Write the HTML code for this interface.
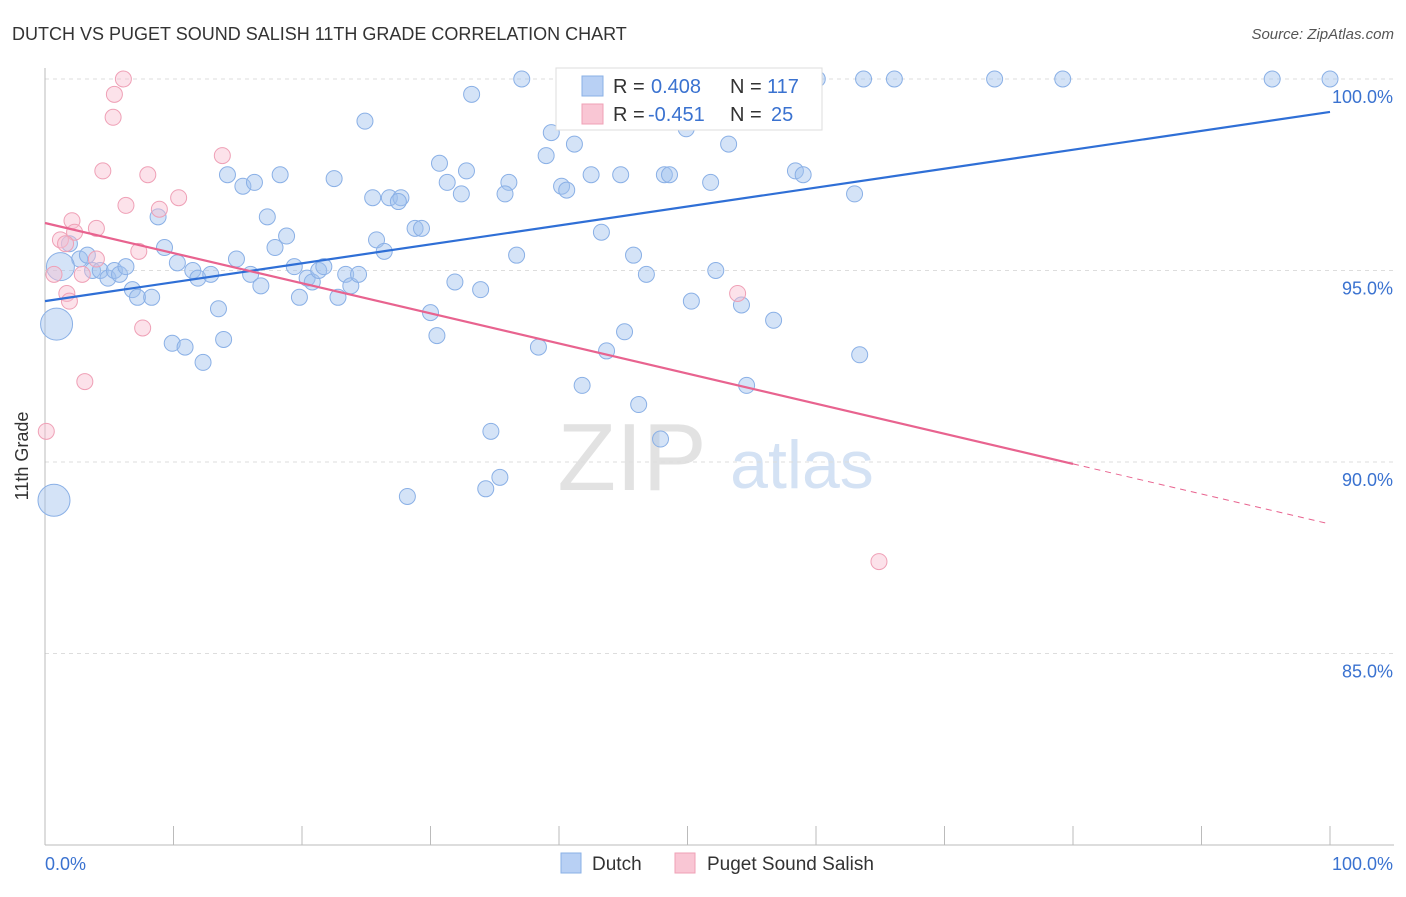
<!DOCTYPE html>
<html><head><meta charset="utf-8"><style>
body{margin:0;background:#fff;font-family:"Liberation Sans",sans-serif;}
svg text{font-family:"Liberation Sans",sans-serif;}
</style></head><body>
<svg id="c" width="1406" height="892" xmlns="http://www.w3.org/2000/svg">
<text x="12" y="40" font-size="18" fill="#333">DUTCH VS PUGET SOUND SALISH 11TH GRADE CORRELATION CHART</text>
<text x="1394" y="39" font-size="15" fill="#555" font-style="italic" text-anchor="end">Source: ZipAtlas.com</text>
<text x="28" y="456" font-size="18" fill="#333" text-anchor="middle" transform="rotate(-90 28 456)">11th Grade</text>
<g><text x="632" y="490" font-size="96" fill="#e2e2e2" font-family="Liberation Serif,serif" text-anchor="middle">ZIP</text><text x="802" y="488" font-size="68" fill="#d4e2f4" text-anchor="middle">atlas</text></g>
<g id="grid"></g><g id="axes"></g><g id="marks"></g><g id="lines"></g>
<g>
<rect x="556" y="68" width="266" height="62" fill="#fff" stroke="#ddd"/>
<rect x="582" y="76" width="21" height="20" fill="#b8d0f4" stroke="#8ab0e6"/>
<rect x="582" y="104" width="21" height="20" fill="#f9c6d4" stroke="#efa0b6"/>
<text x="613" y="93" font-size="20" fill="#333">R = </text><text x="651" y="93" font-size="20" fill="#3a72d0">0.408</text>
<text x="730" y="93" font-size="20" fill="#333">N = </text><text x="767" y="93" font-size="20" fill="#3a72d0">117</text>
<text x="613" y="121" font-size="20" fill="#333">R = </text><text x="648" y="121" font-size="20" fill="#3a72d0">-0.451</text>
<text x="730" y="121" font-size="20" fill="#333">N = </text><text x="771" y="121" font-size="20" fill="#3a72d0">25</text>
</g>
<g>
<rect x="561" y="853" width="20" height="20" fill="#b8d0f4" stroke="#8ab0e6"/>
<text x="592" y="870" font-size="19" fill="#333">Dutch</text>
<rect x="675" y="853" width="20" height="20" fill="#f9c6d4" stroke="#efa0b6"/>
<text x="707" y="870" font-size="19" fill="#333">Puget Sound Salish</text>
</g>
</svg>
<script>
const dutchX=[37.1,60.1,63.7,66.1,73.9,79.2,95.5,100,33.2,24.9,39.4,41.2,49.9,53.2,39.0,30.7,32.8,14.2,15.4,16.3,18.3,22.5,31.3,32.4,36.1,35.8,40.2,40.6,42.5,44.8,48.2,48.6,51.8,58.4,59.0,63.0,8.8,17.3,25.5,26.8,27.7,27.5,28.8,29.3,18.8,25.8,26.4,43.3,9.3,17.9,36.7,45.8,1.9,2.7,3.3,1.2,3.7,4.3,4.9,5.4,5.8,6.3,6.8,7.2,8.3,10.3,11.5,11.9,12.9,14.9,16.0,16.8,19.4,20.4,20.8,21.3,21.7,23.4,23.8,24.4,19.8,22.8,31.9,33.9,46.8,52.2,50.3,54.2,56.7,13.5,13.9,9.9,10.9,12.3,30.0,30.5,38.4,43.7,45.1,41.8,46.2,54.6,63.4,47.9,34.7,28.2,34.3,35.4,0.9,0.7];
const dutchY=[100,100,100,100,100,100,100,100,99.6,98.9,98.6,98.3,98.7,98.3,98.0,97.8,97.6,97.5,97.2,97.3,97.5,97.4,97.3,97.0,97.3,97.0,97.2,97.1,97.5,97.5,97.5,97.5,97.3,97.6,97.5,97.0,96.4,96.4,96.9,96.9,96.9,96.8,96.1,96.1,95.9,95.8,95.5,96.0,95.6,95.6,95.4,95.4,95.7,95.3,95.4,95.1,95.0,95.0,94.8,95.0,94.9,95.1,94.5,94.3,94.3,95.2,95.0,94.8,94.9,95.3,94.9,94.6,95.1,94.8,94.7,95.0,95.1,94.9,94.6,94.9,94.3,94.3,94.7,94.5,94.9,95.0,94.2,94.1,93.7,94.0,93.2,93.1,93.0,92.6,93.9,93.3,93.0,92.9,93.4,92.0,91.5,92.0,92.8,90.6,90.8,89.1,89.3,89.6,93.6,89.0];
const dutchBig={55:14,108:16,109:16};
const pugetX=[6.1,5.4,5.3,4.5,8.0,13.8,10.4,6.3,8.9,2.1,4.0,2.3,1.2,1.6,7.3,4.0,2.9,0.7,1.7,1.9,7.6,3.1,0.1,53.9,64.9];
const pugetY=[100,99.6,99.0,97.6,97.5,98.0,96.9,96.7,96.6,96.3,96.1,96.0,95.8,95.7,95.5,95.3,94.9,94.9,94.4,94.2,93.5,92.1,90.8,94.4,87.4];
const yTicks=[100,95,90,85];
const yTickLabels=["100.0%","95.0%","90.0%","85.0%"];
const dutchTrend=[[0,94.2],[100,99.14]];
const pugetTrend=[[0,96.24],[80,89.95],[100,88.38]];
const NS='http://www.w3.org/2000/svg';
const X=v=>45+v*12.85, Y=v=>79+(100-v)*38.3;
function mk(p,t,a){const e=document.createElementNS(NS,t);for(const k in a)e.setAttribute(k,a[k]);document.getElementById(p).appendChild(e);return e;}
yTicks.forEach((t,i)=>{
 const l=mk('grid','line',{x1:45,x2:1394,y1:Y(t),y2:Y(t),stroke:'#ddd','stroke-dasharray':'4,4'});
 
 
 const tx=mk('grid','text',{x:1393,y:Y(t)+24,'font-size':18,fill:'#3a72d0','text-anchor':'end'});
 tx.textContent=yTickLabels[i];
 
 
});
mk('axes','line',{x1:45,x2:45,y1:68,y2:845,stroke:'#bbb'});
mk('axes','line',{x1:45,x2:1394,y1:845,y2:845,stroke:'#bbb'});
for(let i=0;i<=10;i++){const tk=mk('axes','line',{x1:X(i*10),x2:X(i*10),y1:826,y2:845,stroke:'#bbb'});
 
 }
const a0=mk('axes','text',{x:45,y:870,'font-size':18,fill:'#3a72d0'});a0.textContent='0.0%';


const a1=mk('axes','text',{x:1393,y:870,'font-size':18,fill:'#3a72d0','text-anchor':'end'});a1.textContent='100.0%';


dutchX.forEach((x,i)=>{const c=mk('marks','circle',{cx:X(x),cy:Y(dutchY[i]),r:dutchBig[i]||8,fill:'rgba(160,192,238,0.45)',stroke:'#8ab0e6','stroke-width':1});
 
 });
pugetX.forEach((x,i)=>{const c=mk('marks','circle',{cx:X(x),cy:Y(pugetY[i]),r:8,fill:'rgba(248,190,208,0.45)',stroke:'#efa0b6','stroke-width':1});
 
 });
const bl=mk('lines','line',{x1:X(dutchTrend[0][0]),y1:Y(dutchTrend[0][1]),x2:X(dutchTrend[1][0]),y2:Y(dutchTrend[1][1]),stroke:'#2f6fd6','stroke-width':2.2});


const pl=mk('lines','line',{x1:X(pugetTrend[0][0]),y1:Y(pugetTrend[0][1]),x2:X(pugetTrend[1][0]),y2:Y(pugetTrend[1][1]),stroke:'#e8638f','stroke-width':2.2});


const pd=mk('lines','line',{x1:X(pugetTrend[1][0]),y1:Y(pugetTrend[1][1]),x2:X(pugetTrend[2][0]),y2:Y(pugetTrend[2][1]),stroke:'#e8638f','stroke-width':1,'stroke-dasharray':'6,5'});


</script>
</body></html>
